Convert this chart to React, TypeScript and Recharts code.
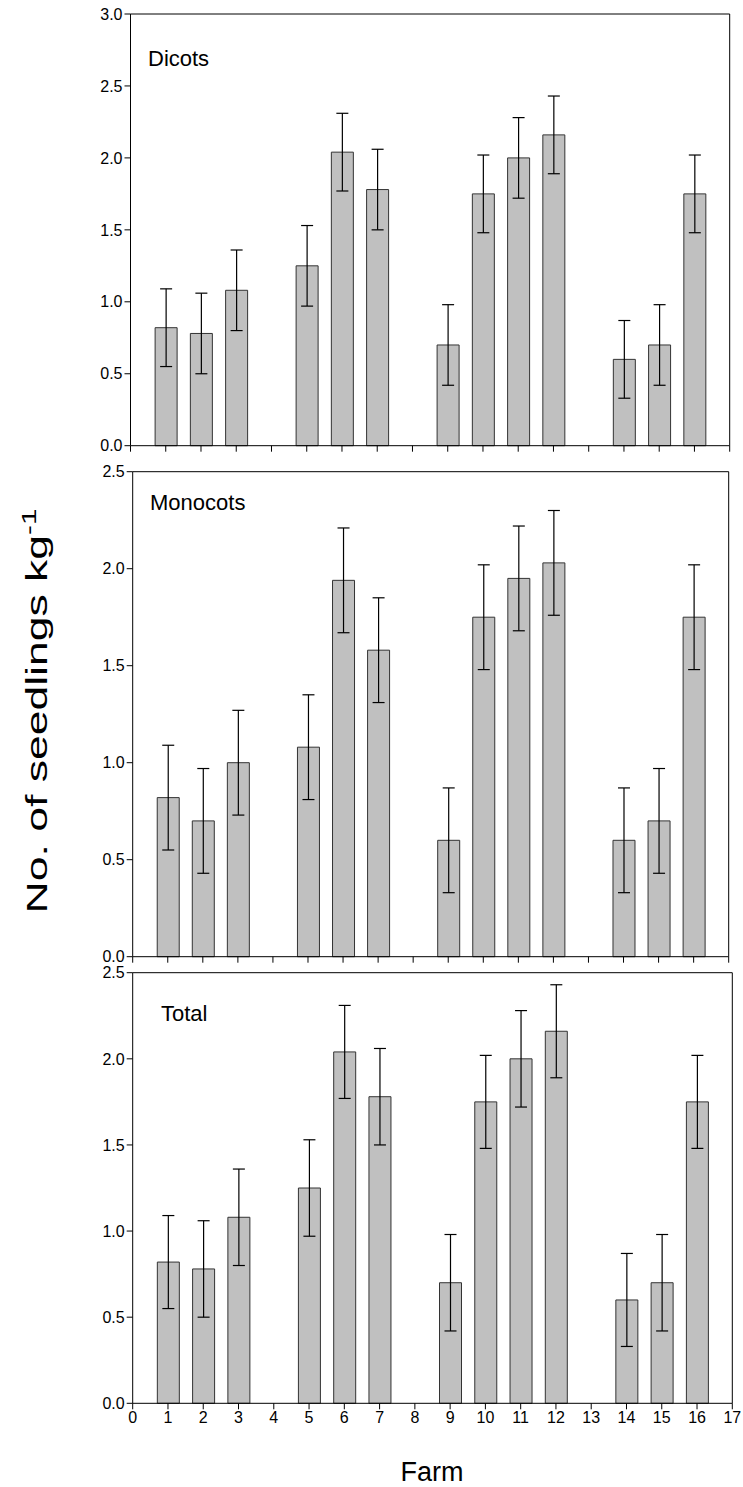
import React from 'react';
import { BarChart, Bar, XAxis, YAxis, ErrorBar, ReferenceLine } from 'recharts';

// farms sampled (4, 8 and 13 have no bars)
const farms = [1, 2, 3, 5, 6, 7, 9, 10, 11, 12, 14, 15, 16];

const dicots = [0.82, 0.78, 1.08, 1.25, 2.04, 1.78, 0.7, 1.75, 2.0, 2.16, 0.6, 0.7, 1.75];
const dicotsSe = [0.27, 0.28, 0.28, 0.28, 0.27, 0.28, 0.28, 0.27, 0.28, 0.27, 0.27, 0.28, 0.27];

const monocots = [0.82, 0.7, 1.0, 1.08, 1.94, 1.58, 0.6, 1.75, 1.95, 2.03, 0.6, 0.7, 1.75];
const monocotsSe = [0.27, 0.27, 0.27, 0.27, 0.27, 0.27, 0.27, 0.27, 0.27, 0.27, 0.27, 0.27, 0.27];

const total = [0.82, 0.78, 1.08, 1.25, 2.04, 1.78, 0.7, 1.75, 2.0, 2.16, 0.6, 0.7, 1.75];
const totalSe = [0.27, 0.28, 0.28, 0.28, 0.27, 0.28, 0.28, 0.27, 0.28, 0.27, 0.27, 0.28, 0.27];

const xTicks = [0, 1, 2, 3, 4, 5, 6, 7, 8, 9, 10, 11, 12, 13, 14, 15, 16, 17];
const yTicksTop = [0, 0.5, 1, 1.5, 2, 2.5, 3];
const yTicks = [0, 0.5, 1, 1.5, 2, 2.5];

const W = 743;
const FONT = '"Liberation Sans", Arial, sans-serif';
const Y_AXIS_W = 60;

const build = (vals: number[], se: number[]) =>
  farms.map((farm, i) => ({ farm, value: vals[i], se: se[i] }));

interface PanelProps {
  data: Array<{ farm: number; value: number; se: number }>;
  chartTop: number;
  chartHeight: number;
  plot: { left: number; right: number; top: number; bottom: number };
  yMax: number;
  yTicks: number[];
  xAxisHeight: number;
  showXLabels: boolean;
}

function Panel({ data, chartTop, chartHeight, plot, yMax, yTicks, xAxisHeight, showXLabels }: PanelProps) {
  const margin = {
    top: plot.top - chartTop,
    right: W - plot.right,
    left: plot.left - Y_AXIS_W,
    bottom: chartTop + chartHeight - plot.bottom - xAxisHeight,
  };
  return (
    <div style={{ position: 'absolute', top: chartTop, left: 0 }}>
      <BarChart width={W} height={chartHeight} data={data} margin={margin}>
        <XAxis
          dataKey="farm"
          type="number"
          domain={[0, 17]}
          ticks={xTicks}
          interval={0}
          height={xAxisHeight}
          tickSize={6}
          stroke="#000"
          tickLine={{ stroke: '#000' }}
          axisLine={{ stroke: '#000' }}
          tick={{ fill: '#000', fontSize: 16, fontFamily: FONT }}
          tickFormatter={(v: number) => (showXLabels ? String(v) : '')}
        />
        <YAxis
          domain={[0, yMax]}
          ticks={yTicks}
          width={Y_AXIS_W}
          tickSize={6}
          interval={0}
          stroke="#000"
          tickLine={{ stroke: '#000' }}
          axisLine={{ stroke: '#000' }}
          tick={{ fill: '#000', fontSize: 16, fontFamily: FONT }}
          tickFormatter={(v: number) => v.toFixed(1)}
        />
        <ReferenceLine y={yMax} stroke="#000" />
        <ReferenceLine x={17} stroke="#000" />
        <Bar dataKey="value" barSize={22} fill="#c0c0c0" stroke="#333" strokeWidth={1} isAnimationActive={false}>
          <ErrorBar dataKey="se" width={6} stroke="#000" strokeWidth={1.2} direction="y" />
        </Bar>
      </BarChart>
    </div>
  );
}

export default function App() {
  return (
    <div style={{ position: 'absolute', top: 0, left: 0, width: W, height: 1487, background: '#fff', fontFamily: FONT }}>
      <Panel
        data={build(dicots, dicotsSe)}
        chartTop={0}
        chartHeight={470}
        plot={{ left: 130.5, right: 729.7, top: 14, bottom: 445.7 }}
        yMax={3}
        yTicks={yTicksTop}
        xAxisHeight={20}
        showXLabels={false}
      />
      <Panel
        data={build(monocots, monocotsSe)}
        chartTop={460}
        chartHeight={510}
        plot={{ left: 132.7, right: 728.7, top: 471.7, bottom: 956.7 }}
        yMax={2.5}
        yTicks={yTicks}
        xAxisHeight={10}
        showXLabels={false}
      />
      <Panel
        data={build(total, totalSe)}
        chartTop={962}
        chartHeight={525}
        plot={{ left: 132.7, right: 732.3, top: 972.7, bottom: 1403.3 }}
        yMax={2.5}
        yTicks={yTicks}
        xAxisHeight={40}
        showXLabels={true}
      />
      <svg width={W} height={1487} style={{ position: 'absolute', top: 0, left: 0, pointerEvents: 'none' }}>
        <g fontFamily={FONT} fill="#000">
          <text x={148} y={66} fontSize={22}>Dicots</text>
          <text x={150} y={510} fontSize={22}>Monocots</text>
          <text x={161} y={1021} fontSize={22}>Total</text>
          <text x={432} y={1481} fontSize={27} textAnchor="middle">Farm</text>
          <text
            x={47}
            y={711}
            fontSize={30}
            textAnchor="middle"
            transform="rotate(-90 47 711)"
            textLength={405}
            lengthAdjust="spacingAndGlyphs"
          >
            No. of seedlings kg<tspan dy={-11} fontSize={20}>-1</tspan>
          </text>
        </g>
      </svg>
    </div>
  );
}
